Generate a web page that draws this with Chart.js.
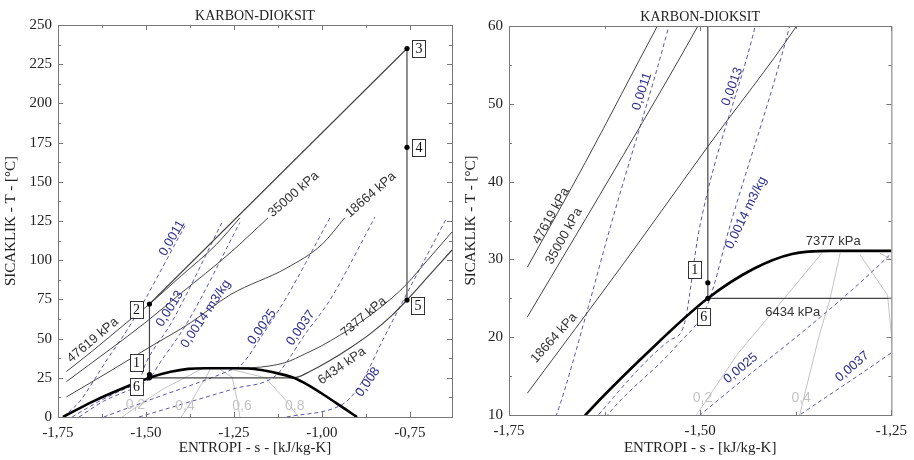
<!DOCTYPE html>
<html>
<head>
<meta charset="utf-8">
<script src="https://cdn.jsdelivr.net/npm/chart.js@4/dist/chart.umd.min.js"></script>
<style>
  body { margin: 0; background: #fff; width: 914px; height: 460px; overflow: hidden; position: relative; }
  #left { position: absolute; left: 0; top: 0; }
  #right { position: absolute; left: 460px; top: 0; }
</style>
</head>
<body>
<canvas id="left" width="460" height="460"></canvas>
<canvas id="right" width="454" height="460"></canvas>
<script>
// [s (kJ/kg-K), T (C)] pairs
const dome = [[-1.736,0],[-1.65,10],[-1.569,18],[-1.49,25],[-1.43,28.8],[-1.38,30.7],[-1.33,31.1],[-1.25,31.1],[-1.20,30.8],[-1.16,29.5],[-1.12,27.5],[-1.08,25],[-1.04,20.5],[-1.00,15],[-0.96,9],[-0.93,4.5],[-0.90,0]];

const p47619 = [[-1.726,29],[-1.65,42.5],[-1.556,60],[-1.49,72],[-1.40,90],[-1.30,110],[-1.233,127]];
const p35000 = [[-1.726,22.6],[-1.60,43.5],[-1.503,60],[-1.40,79],[-1.261,104.6],[-1.153,127]];
const p18664 = [[-1.726,12.8],[-1.60,29.5],[-1.49,44.5],[-1.374,60],[-1.26,78],[-1.10,95],[-1.00,110],[-0.935,127]];
const p7377 = [[-1.36,31],[-1.25,31.1],[-1.20,31.4],[-1.15,32.5],[-1.10,35],[-1.05,40],[-1.00,45.5],[-0.95,52],[-0.90,59],[-0.85,67],[-0.80,76],[-0.758,85],[-0.70,100],[-0.63,118]];
const p6434 = [[-1.49,25],[-1.08,25],[-1.03,29.5],[-0.977,36],[-0.92,44],[-0.86,53.5],[-0.80,65],[-0.758,74.6],[-0.70,89],[-0.63,106.5]];

const v0011 = [[-1.735,0],[-1.72,3],[-1.688,10],[-1.646,24],[-1.618,34],[-1.541,60],[-1.389,122]];
const v0013 = [[-1.71,0],[-1.633,10],[-1.54,19.6],[-1.522,21.3],[-1.501,34],[-1.428,60],[-1.284,124]];
const v0014 = [[-1.69,0],[-1.621,10],[-1.53,19],[-1.49,24.3],[-1.462,34],[-1.383,60],[-1.233,124]];
const v0025 = [[-1.62,0],[-1.50,10],[-1.253,30.5],[-1.23,33],[-1.17,52],[-1.105,74.6],[-0.977,127]];
const v0037 = [[-1.52,0],[-1.37,10],[-1.25,18],[-1.13,26.5],[-1.10,35],[-1.05,52],[-0.977,74.6],[-0.849,127.5]];
const v008 = [[-1.10,0],[-0.95,7],[-0.92,12],[-0.883,23.6],[-0.827,49],[-0.645,127]];

const x02 = [[-1.568,0],[-1.505,10],[-1.45,18],[-1.39,25],[-1.341,30.8]];
const x04 = [[-1.40,0],[-1.37,10],[-1.345,20],[-1.33,25],[-1.317,30.8]];
const x06 = [[-1.233,0],[-1.24,10],[-1.255,25.4],[-1.291,30.6]];
const x08 = [[-1.066,0],[-1.10,10],[-1.16,25],[-1.265,30.8]];

// cycle 6-1-2-3-4-5 (5-6 runs along 6434 kPa)
const cycle = [[-1.49,25],[-1.49,72],[-0.758,235],[-0.758,74.6]];
const stateNames = ["1","2","3","4","5","6"];
const stateS = [-1.49,-1.49,-0.758,-0.758,-0.758,-1.49];
const stateT = [27,72,235,172,74.6,25];

const xTicksLeft = [-1.75,-1.50,-1.25,-1.00,-0.75];
const yTicksLeft = [0,25,50,75,100,125,150,175,200,225,250];
const xTicksRight = [-1.75,-1.50,-1.25];
const yTicksRight = [10,20,30,40,50,60];

const serif = '"Liberation Serif", "Times New Roman", serif';
const sans = '"Liberation Sans", Arial, sans-serif';
const dark = "#333";
const blue = "#2e2e8c";
const grey = "#c4c4c4";

const leftNotes = [
  ["47619 kPa", -1.651, 49, -40, dark], ["35000 kPa", -1.08, 142, -41, dark],
  ["18664 kPa", -0.861, 141.6, -41, dark], ["7377 kPa", -0.881, 63.8, -40, dark],
  ["6434 kPa", -0.943, 32.5, -35, dark],
  ["0,0011", -1.426, 114, -60, blue], ["0,0013", -1.432, 69, -58, blue],
  ["0,0014 m3/kg", -1.33, 65.7, -56, blue], ["0,0025", -1.17, 57.4, -55, blue],
  ["0,0037", -1.06, 56.8, -55, blue], ["0,008", -0.869, 22.3, -55, blue],
  ["0,2", -1.53, 7.6, 0, grey], ["0,4", -1.389, 7, 0, grey],
  ["0,6", -1.227, 7, 0, grey], ["0,8", -1.077, 7, 0, grey]
];
const rightNotes = [
  ["47619 kPa", -1.695, 35.6, -61, dark], ["35000 kPa", -1.678, 33, -61, dark],
  ["18664 kPa", -1.691, 19.9, -48, dark], ["7377 kPa", -1.326, 32.3, 0, dark],
  ["6434 kPa", -1.379, 23.2, 0, dark],
  ["0,0011", -1.576, 51.6, -72, blue], ["0,0013", -1.458, 52.2, -70, blue],
  ["0,0014 m3/kg", -1.44, 36, -64, blue], ["0,0025", -1.447, 16, -40, blue],
  ["0,0037", -1.301, 16.2, -40, blue],
  ["0,2", -1.497, 12.2, 0, grey], ["0,4", -1.368, 12.2, 0, grey]
];
// box offsets (px) of state labels from their dots
const leftBoxes = [[-13,-12],[-13,5],[12,0],[12,0],[11,5],[-13,9]];
const rightBoxes = [[-13,-13],null,null,null,null,[-4,18]];

const xy = arr => arr.map(p => ({ x: p[0], y: p[1] }));
function line(data, color, width, dash, smooth) {
  return {
    data: xy(data), showLine: true, borderColor: color, borderWidth: width,
    borderDash: dash || [], pointRadius: 0, fill: false,
    cubicInterpolationMode: smooth ? "monotone" : "default", tension: 0
  };
}
const isoC = "rgba(70,70,165,0.9)";
function datasets() {
  return [
    { data: stateS.map((s, i) => ({ x: s, y: stateT[i] })), pointRadius: 2.6, pointBackgroundColor: "#000", pointBorderWidth: 0, showLine: false },
    line(cycle, "#444", 1.2),
    line(dome, "#000", 2.6, null, true),
    line(p47619, "#444", 1, null, true), line(p35000, "#444", 1, null, true),
    line(p18664, "#444", 1, null, true), line(p7377, "#444", 1, null, true),
    line(p6434, "#444", 1.2, null, true),
    line(v0011, isoC, 1, [4, 3], true), line(v0013, isoC, 1, [4, 3], true),
    line(v0014, isoC, 1, [4, 3], true), line(v0025, isoC, 1, [4, 3], true),
    line(v0037, isoC, 1, [4, 3], true), line(v008, isoC, 1, [4, 3], true),
    line(x02, grey, 1), line(x04, grey, 1), line(x06, grey, 1), line(x08, grey, 1)
  ];
}

const decorate = {
  id: "decorate",
  afterDraw(chart, args, o) {
    const c = chart.ctx, a = chart.chartArea, xs = chart.scales.x, ys = chart.scales.y;
    c.save();
    // frame and inner ticks
    c.strokeStyle = "#777"; c.lineWidth = 1;
    c.strokeRect(a.left + 0.5, a.top + 0.5, a.right - a.left, a.bottom - a.top);
    const xt = o.xt, yt = o.yt;
    const tick = (vals, len) => {
      vals.forEach(v => {
        const px = Math.round(xs.getPixelForValue(v)) + 0.5;
        c.beginPath(); c.moveTo(px, a.bottom); c.lineTo(px, a.bottom - len);
        c.moveTo(px, a.top); c.lineTo(px, a.top + len); c.stroke();
      });
    };
    const xMinor = xt.slice(0, -1).map((v, i) => (v + xt[i + 1]) / 2);
    tick(xt, 5); tick(xMinor, 3);
    const yMinor = yt.slice(0, -1).map((v, i) => (v + yt[i + 1]) / 2);
    [[yt, 5], [yMinor, 3]].forEach(([vals, len]) => vals.forEach(v => {
      const py = Math.round(ys.getPixelForValue(v)) + 0.5;
      c.beginPath(); c.moveTo(a.left, py); c.lineTo(a.left + len, py);
      c.moveTo(a.right, py); c.lineTo(a.right - len, py); c.stroke();
    }));
    // title
    c.fillStyle = "#222"; c.font = "14px " + serif; c.textAlign = "center"; c.textBaseline = "middle";
    c.fillText("KARBON-DIOKSIT", (a.left + a.right) / 2, o.titleY);
    // notes
    c.beginPath(); c.rect(a.left, a.top, a.right - a.left, a.bottom - a.top); c.clip();
    o.notes.forEach(n => {
      const px = xs.getPixelForValue(n[1]), py = ys.getPixelForValue(n[2]);
      c.save(); c.translate(px, py); c.rotate(n[3] * Math.PI / 180);
      c.fillStyle = n[4];
      c.font = (n[4] === grey ? "14px " : "13px ") + sans;
      c.fillText(n[0], 0, 0); c.restore();
    });
    // state boxes
    c.font = "14px " + serif;
    o.boxes.forEach((b, i) => {
      if (!b) return;
      const px = xs.getPixelForValue(stateS[i]) + b[0], py = ys.getPixelForValue(stateT[i]) + b[1];
      c.fillStyle = "#fff"; c.fillRect(px - 6.5, py - 8.5, 13, 17);
      c.strokeStyle = "#333"; c.strokeRect(Math.round(px - 6.5) + 0.5, Math.round(py - 8.5) + 0.5, 13, 17);
      c.fillStyle = "#111"; c.fillText(stateNames[i], px, py + 1);
    });
    c.restore();
  }
};

function makeChart(id, xMin, xMax, yMin, yMax, xt, yt, yWidth, xHeight, pad, opts) {
  return new Chart(document.getElementById(id), {
    type: "scatter",
    data: { datasets: datasets() },
    plugins: [decorate],
    options: {
      responsive: false, animation: false, events: [],
      layout: { padding: pad },
      plugins: { legend: { display: false }, tooltip: { enabled: false }, decorate: opts },
      scales: {
        x: {
          type: "linear", min: xMin, max: xMax,
          afterBuildTicks: ax => { ax.ticks = xt.map(v => ({ value: v })); },
          afterFit: ax => { ax.height = xHeight; },
          grid: { display: false, drawTicks: false }, border: { display: false },
          ticks: { padding: 7, color: "#222", font: { family: serif, size: 15 }, maxRotation: 0, autoSkip: false,
            callback: v => v.toFixed(2).replace(".", ",") },
          title: { display: true, text: "ENTROPI - s - [kJ/kg-K]", color: "#222", font: { family: serif, size: 15 }, padding: { top: 0, bottom: 3 } }
        },
        y: {
          type: "linear", min: yMin, max: yMax,
          afterBuildTicks: ax => { ax.ticks = yt.map(v => ({ value: v })); },
          afterFit: ax => { ax.width = yWidth; },
          grid: { display: false, drawTicks: false }, border: { display: false },
          ticks: { padding: 6, color: "#222", font: { family: serif, size: 15 }, autoSkip: false },
          title: { display: true, text: "SICAKLIK - T - [°C]", color: "#222", font: { family: serif, size: 15 }, padding: { top: 2, bottom: 2 } }
        }
      }
    }
  });
}

makeChart("left", -1.75, -0.63, 0, 250, xTicksLeft, yTicksLeft, 58, 43,
  { top: 25, right: 8, left: 0, bottom: 0 },
  { xt: xTicksLeft, yt: yTicksLeft, notes: leftNotes, boxes: leftBoxes, titleY: 16 });
makeChart("right", -1.75, -1.25, 10, 60, xTicksRight, yTicksRight, 49, 45,
  { top: 26, right: 15, left: 0, bottom: 0 },
  { xt: xTicksRight, yt: yTicksRight, notes: rightNotes, boxes: rightBoxes, titleY: 17 });
</script>
</body>
</html>
